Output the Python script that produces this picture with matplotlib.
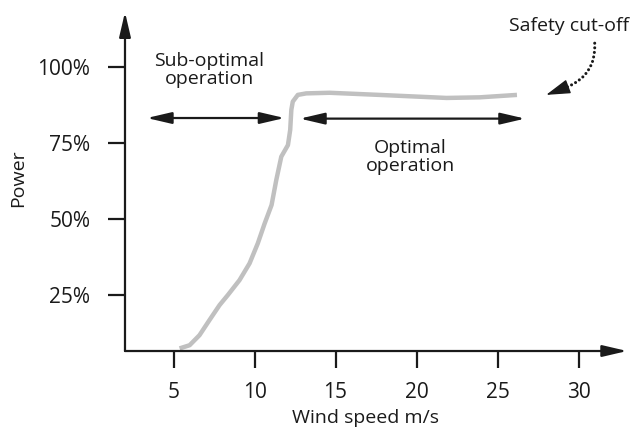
import numpy as np
import matplotlib
matplotlib.use("Agg")
import matplotlib.pyplot as plt

plt.rcParams['font.family'] = ['Open Sans', 'DejaVu Sans']

# power curve
wind = [5.37, 5.99, 6.6, 7.22, 7.84, 8.35, 9.07, 9.69, 10.2, 10.62, 11.05, 11.34, 11.65,
        12.06, 12.2, 12.27, 12.36, 12.67, 13.19, 14.63, 17.7, 21.85, 23.9, 26.2]
power = [7.45, 8.5, 11.8, 16.8, 21.7, 25.0, 29.9, 35.4, 42.0, 48.5, 54.6, 62.8, 70.5,
         74.3, 79.3, 85.9, 88.6, 90.8, 91.3, 91.5, 90.8, 89.8, 90.0, 90.8]

xticks = [5, 10, 15, 20, 25, 30]
yticks = [25, 50, 75, 100]
ytick_labels = ['25%', '50%', '75%', '100%']

ink = '#1a1a1a'
fig = plt.figure(figsize=(6.3, 4.3), dpi=100)
ax = fig.add_axes([0.1984, 0.1837, 0.797, 0.788])
ax.set_xlim(2, 33)
ax.set_ylim(6.6, 118)
for s in ax.spines.values():
    s.set_visible(False)

ax.plot(wind, power, color='#c0c0c0', lw=3.2, solid_capstyle='butt', solid_joinstyle='round', zorder=2)

head = '-|>,head_length=1.5,head_width=0.35'
# axes with arrow heads
arr = dict(arrowstyle=head, color=ink, lw=1.6, shrinkA=0, shrinkB=0)
ax.annotate('', xy=(33, 6.6), xytext=(2, 6.6), arrowprops=arr, annotation_clip=False)
ax.annotate('', xy=(2, 118), xytext=(2, 6.6), arrowprops=arr, annotation_clip=False)

ax.set_xticks(xticks)
ax.set_yticks(yticks)
ax.set_yticklabels(ytick_labels)
ax.tick_params(axis='both', length=12, width=1.6, color=ink, pad=10, labelsize=15, labelcolor=ink)
ax.tick_params(axis='y', pad=13)

# range arrows
dbl = dict(arrowstyle='<|-|>,head_length=1.5,head_width=0.35', color=ink, lw=1.6, shrinkA=0, shrinkB=0)
ax.annotate('', xy=(3.35, 83.2), xytext=(11.85, 83.2), arrowprops=dbl)
ax.annotate('', xy=(12.8, 83), xytext=(26.7, 83), arrowprops=dbl)

ax.text(7.2, 99, 'Sub-optimal\noperation', ha='center', va='center', fontsize=14, color=ink, linespacing=1.05)
ax.text(19.6, 70.4, 'Optimal\noperation', ha='center', va='center', fontsize=14, color=ink, linespacing=1.05)
ax.text(29.4, 113.5, 'Safety cut-off', ha='center', va='center', fontsize=14, color=ink)

# dotted curve to the cut-off point, solid head
ax.annotate('', xy=(29.3, 93.4), xytext=(31.0, 107.8),
            arrowprops=dict(arrowstyle='-', color=ink, lw=2.2, linestyle=(0, (0.01, 1.5)),
                            capstyle='round', connectionstyle='arc3,rad=-0.35',
                            shrinkA=0, shrinkB=0),
            annotation_clip=False)
ax.annotate('', xy=(28.0, 90.8), xytext=(29.3, 93.4),
            arrowprops=dict(arrowstyle='-|>,head_length=1.5,head_width=0.45', color=ink, lw=1,
                            shrinkA=0, shrinkB=0),
            annotation_clip=False)

ax.set_xlabel('Wind speed m/s', fontsize=14, color=ink)
ax.xaxis.set_label_coords(0.478, -0.172)
ax.set_ylabel('Power', fontsize=14, color=ink)
ax.yaxis.set_label_coords(-0.194, 0.511)

fig.savefig('out.png', dpi=100)
